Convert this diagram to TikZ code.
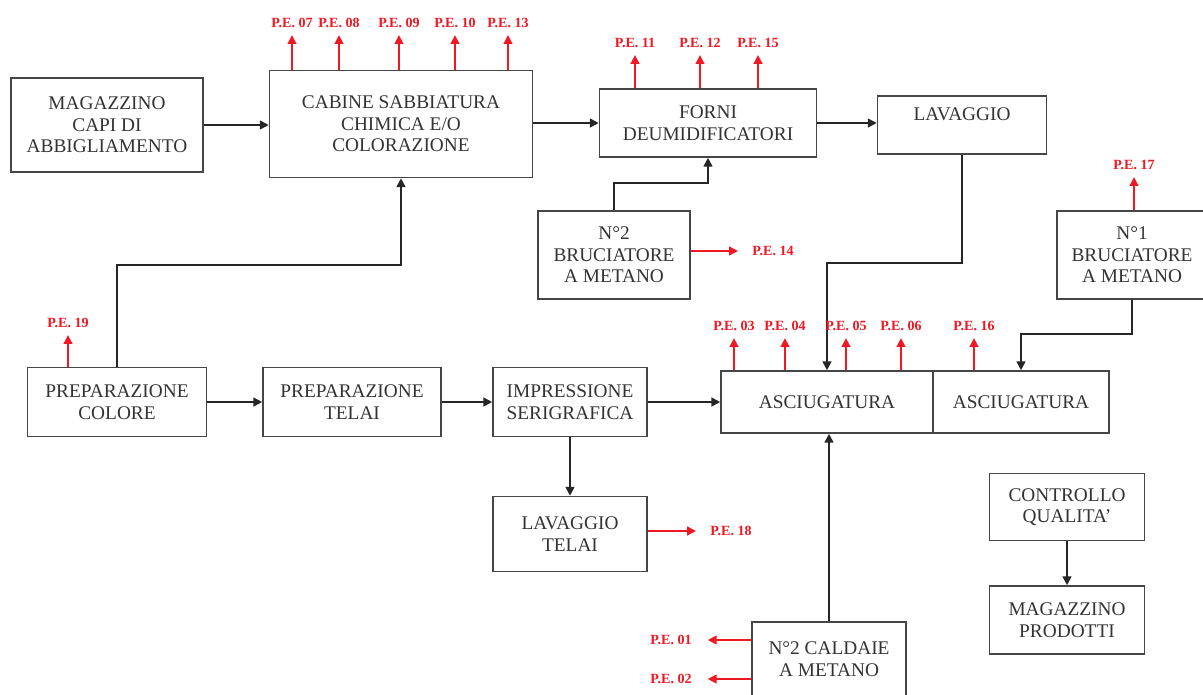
\documentclass[tikz,border=0pt]{standalone}
\usepackage{fontspec}
\setmainfont{Liberation Serif}
\usepackage{tikz}
\usepackage{xcolor}
\usetikzlibrary{arrows.meta}

\definecolor{boxline}{RGB}{70,70,70}
\definecolor{pered}{RGB}{240,25,35}

\begin{document}
\begin{tikzpicture}[x=0.02cm, y=-0.02cm,
    box/.style 2 args={draw=boxline, line width=0.9pt, minimum width=#1*0.02cm,
        minimum height=#2*0.02cm, inner sep=1pt, align=center, text=black!80,
        font={\fontsize{11}{12.2}\selectfont}},
    pe/.style={text=pered, font={\bfseries\fontsize{8}{9}\selectfont}, inner sep=1pt},
    emit/.style={draw=pered, line width=1pt, shorten >=3pt, -{Triangle[length=5pt,width=5pt]}},
    flow/.style={draw=black!85, line width=1pt, -{Triangle[length=5pt,width=5pt]}}]

% page
\fill[white] (0,0) rectangle (1203,694);
\useasboundingbox (0,0) rectangle (1203,694);

% upper line
\node[box={192}{94}] (magcapi) at (107,125) {MAGAZZINO\\CAPI DI\\ABBIGLIAMENTO};
\node[box={263}{107}] (cabine) at (401,124) {CABINE SABBIATURA\\CHIMICA E/O\\COLORAZIONE};
\node[box={217}{68}] (forni) at (708,123) {FORNI\\DEUMIDIFICATORI};
\node[box={169}{58}] (lavaggio) at (962,125) {LAVAGGIO\\\mbox{}};
\node[box={152}{88}] (brucia2) at (614,255) {N°2\\BRUCIATORE\\A METANO};
\node[box={150}{88}] (brucia1) at (1132,255) {N°1\\BRUCIATORE\\A METANO};

% printing line
\node[box={179}{69}] (colore) at (117,402) {PREPARAZIONE\\COLORE};
\node[box={178}{69}] (telai) at (352,402) {PREPARAZIONE\\TELAI};
\node[box={154}{69}] (impressione) at (570,402) {IMPRESSIONE\\SERIGRAFICA};
\node[box={212}{62}] (asciug1) at (827,402) {ASCIUGATURA};
\node[box={176}{62}] (asciug2) at (1021,402) {ASCIUGATURA};
\node[box={154}{75}] (lavtelai) at (570,534) {LAVAGGIO\\TELAI};
\node[box={154}{74}] (caldaie) at (829,659) {N°2 CALDAIE\\A METANO};

% final checks
\node[box={155}{67}] (controllo) at (1067,507) {CONTROLLO\\QUALITA'};
\node[box={155}{68}] (magprod) at (1067,620) {MAGAZZINO\\PRODOTTI};

% process flow
\draw[flow] (magcapi.east) -- (magcapi.east -| cabine.west);
\draw[flow] (cabine.east |- forni.west) -- (forni.west);
\draw[flow] (forni.east) -- (forni.east -| lavaggio.west);
\draw[flow] (brucia2.north) -- ++(0,-27) -| (forni.south);
\draw[flow] (lavaggio.south) -- ++(0,108) -| (asciug1.north);
\draw[flow] (brucia1.south) -- ++(0,34) -| (asciug2.north);
\draw[flow] (colore.north) -- ++(0,-102) -| (cabine.south);
\draw[flow] (colore) -- (telai);
\draw[flow] (telai) -- (impressione);
\draw[flow] (impressione) -- (asciug1);
\draw[flow] (impressione) -- (lavtelai);
\draw[flow] (caldaie.north) -- (caldaie.north |- asciug1.south);
\draw[flow] (controllo) -- (magprod);

% emission points
\foreach \n/\x in {07/292, 08/339, 09/399, 10/455, 13/508} {
    \node[pe] (pe\n) at (\x,23) {P.E. \n};
    \draw[emit] (pe\n |- cabine.north) -- (pe\n.south);
}
\foreach \n/\x in {11/635, 12/700, 15/758} {
    \node[pe] (pe\n) at (\x,43) {P.E. \n};
    \draw[emit] (pe\n |- forni.north) -- (pe\n.south);
}
\foreach \n/\x in {03/734, 04/785, 05/846, 06/901} {
    \node[pe] (pe\n) at (\x,326) {P.E. \n};
    \draw[emit] (pe\n |- asciug1.north) -- (pe\n.south);
}
\node[pe] (pe16) at (974,326) {P.E. 16};
\draw[emit] (pe16 |- asciug2.north) -- (pe16.south);
\node[pe] (pe19) at (68,323) {P.E. 19};
\draw[emit] (pe19 |- colore.north) -- (pe19.south);
\node[pe] (pe17) at (1134,165) {P.E. 17};
\draw[emit] (pe17 |- brucia1.north) -- (pe17.south);

% side emissions
\node[pe] (pe14) at (773,251) {P.E. 14};
\draw[emit, shorten >=7pt] (brucia2.east |- pe14.west) -- (pe14.west);
\node[pe] (pe18) at (731,531) {P.E. 18};
\draw[emit, shorten >=7pt] (lavtelai.east |- pe18.west) -- (pe18.west);
\node[pe] (pe01) at (671,640) {P.E. 01};
\draw[emit, shorten >=8pt] (caldaie.west |- pe01.east) -- (pe01.east);
\node[pe] (pe02) at (671,679) {P.E. 02};
\draw[emit, shorten >=8pt] (caldaie.west |- pe02.east) -- (pe02.east);
\end{tikzpicture}
\end{document}
